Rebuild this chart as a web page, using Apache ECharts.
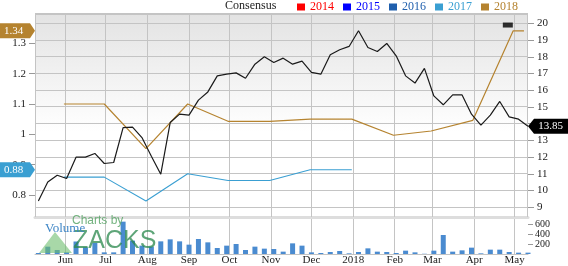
<!DOCTYPE html>
<html><head><meta charset="utf-8">
<script src="https://cdn.jsdelivr.net/npm/echarts@6/dist/echarts.min.js"></script>
<style>html,body{margin:0;padding:0;background:#fff}#c{width:568px;height:266px}</style>
</head><body><div id="c"></div>
<script>
// ---- data ----
const priceWeekly = [9.38, 10.51, 10.92, 10.72, 12.0, 12.0, 12.22, 11.62, 11.68, 13.77, 13.8, 13.17, 12.05, 10.98,
  14.07, 14.57, 14.51, 15.41, 15.9, 16.86, 16.96, 17.04, 16.72, 17.56, 18.0, 17.66, 17.92, 17.56, 17.74, 17.07,
  16.96, 18.12, 18.42, 18.62, 19.56, 18.56, 18.32, 18.8, 18.06, 16.86, 16.43, 17.31, 15.66, 15.13, 15.72, 15.72,
  14.57, 13.91, 14.51, 15.33, 14.41, 14.27, 13.85];
const volumeWeekly = [20, 147, 80, 33, 250, 133, 220, 33, 33, 647, 267, 167, 147, 253, 293, 253, 187, 300, 233, 120,
  167, 200, 80, 147, 107, 100, 47, 213, 167, 33, 20, 40, 60, 13, 40, 113, 47, 40, 20, 67, 33, 5, 67, 380, 47, 73,
  127, 13, 87, 87, 40, 27, 27];
const consensus2018 = [['2017-05-31', 1.10], ['2017-06-30', 1.10], ['2017-07-31', 0.953], ['2017-08-31', 1.10],
  ['2017-09-30', 1.043], ['2017-10-31', 1.043], ['2017-11-30', 1.05], ['2017-12-31', 1.05], ['2018-01-31', 0.997],
  ['2018-02-28', 1.011], ['2018-03-31', 1.046], ['2018-04-30', 1.341], ['2018-05-08', 1.341]];
const consensus2017 = [['2017-05-31', 0.859], ['2017-06-30', 0.859], ['2017-07-31', 0.78], ['2017-08-31', 0.87],
  ['2017-09-30', 0.848], ['2017-10-31', 0.848], ['2017-11-30', 0.883], ['2017-12-31', 0.883]];
const earningsMarker = [['2018-04-26', 19.9]];
const monthTicks = ['2017-06-01', '2017-07-01', '2017-08-01', '2017-09-01', '2017-10-01', '2017-11-01',
  '2017-12-01', '2018-01-01', '2018-02-01', '2018-03-01', '2018-04-01', '2018-05-01'];
const monthNames = ['Jan', 'Feb', 'Mar', 'Apr', 'May', 'Jun', 'Jul', 'Aug', 'Sep', 'Oct', 'Nov', 'Dec'];
const priceTicks = [9, 10, 11, 12, 13, 14, 15, 16, 17, 18, 19, 20];
const epsTicks = [0.8, 0.9, 1, 1.1, 1.2, 1.3];
const volumeTicks = [200, 400, 600];
const legendYears = ['2014', '2015', '2016', '2017', '2018'];

// ---- build ----
function ts(s) { const p = s.split('-').map(Number); return new Date(p[0], p[1] - 1, p[2]).getTime(); }
const weekDates = priceWeekly.map((_, i) => new Date(2017, 4, 12 + 7 * i).getTime());
const xMin = new Date(2017, 4, 9, 12).getTime();
const xMax = new Date(2018, 4, 11).getTime();
const monthTs = monthTicks.map(ts);
const C = { y2014: '#ff0000', y2015: '#0000ff', y2016: '#1f5fad', y2017: '#3a9fd2', y2018: '#b5832f' };
const SERIF = 'Liberation Serif';
const GRID = '#c4c4c4';
const PRICE_MIN = 8.42, PRICE_MAX = 20.56, VOL_MAX = 700;
const GZ = 3;

const last = a => a[a.length - 1];
const fmtNum = v => String(+(+v).toFixed(2));
const fmtMonth = v => { const d = new Date(+v); return d.getMonth() === 0 ? String(d.getFullYear()) : monthNames[d.getMonth()]; };

// grid lines as 1px filled rects (custom series, positions from the axes' own scales)
const hRect = (params, api) => {
  const v = api.value(1);
  const a = api.coord([xMin, v]), b = api.coord([xMax, v]);
  const cs = params.coordSys;
  const y = Math.min(Math.floor(a[1]), Math.ceil(cs.y + cs.height) - 1);
  const x0 = Math.floor(a[0]), x1 = Math.ceil(b[0]);
  return { type: 'rect', silent: true, shape: { x: x0, y: y, width: x1 - x0, height: 1 }, style: { fill: GRID } };
};
const vRect = (yLo, yHi) => (params, api) => {
  const t = api.value(0);
  const a = api.coord([t, yLo]), b = api.coord([t, yHi]);
  const cs = params.coordSys;
  const x = Math.min(Math.floor(a[0]), Math.ceil(cs.x + cs.width) - 1);
  const top = Math.floor(b[1]), bot = Math.ceil(a[1]);
  return { type: 'rect', silent: true, shape: { x: x, y: top, width: 1, height: bot - top }, style: { fill: GRID } };
};

const chart = echarts.init(document.getElementById('c'), null, { renderer: 'canvas' });
chart.setOption({
  animation: false,
  title: { text: 'Consensus', left: 225, top: 0, padding: 0,
    textStyle: { fontFamily: SERIF, fontSize: 12, fontWeight: 'normal', color: '#222', lineHeight: 12 } },
  legend: {
    left: 297, top: 1, padding: 0, itemWidth: 8, itemHeight: 7, itemGap: 9, icon: 'rect',
    textStyle: { fontFamily: SERIF, fontSize: 12, lineHeight: 12 },
    data: legendYears.map(y => ({ name: y, textStyle: { color: C['y' + y] } }))
  },
  grid: [
    { left: 35, top: 14, width: 493, height: 203, show: true, borderWidth: 0, outerBoundsMode: 'none',
      backgroundColor: { type: 'linear', x: 0, y: 0, x2: 0, y2: 1,
        colorStops: [{ offset: 0, color: '#e3e3e3' }, { offset: 0.58, color: '#ffffff' }, { offset: 1, color: '#ffffff' }] } },
    { left: 35, top: 219, width: 493, height: 35, outerBoundsMode: 'none' }
  ],
  xAxis: [
    { type: 'value', gridIndex: 0, min: xMin, max: xMax,
      axisLine: { show: true, lineStyle: { color: '#dddddd', width: 3 } },
      axisTick: { show: false }, axisLabel: { show: false }, splitLine: { show: false } },
    { type: 'value', gridIndex: 1, min: xMin, max: xMax,
      axisLine: { show: true, lineStyle: { color: GRID, width: 1 } },
      axisTick: { show: false, customValues: monthTs },
      axisLabel: { customValues: monthTs, margin: 1, fontFamily: SERIF, fontSize: 11, color: '#222', formatter: fmtMonth },
      splitLine: { show: false } }
  ],
  yAxis: [
    { type: 'value', gridIndex: 0, position: 'left', min: 0.7275, max: 1.3966,
      axisLine: { show: false },
      axisTick: { show: true, length: 6, customValues: epsTicks, lineStyle: { color: '#999' } },
      axisLabel: { customValues: epsTicks, margin: 9, fontFamily: SERIF, fontSize: 11, color: '#222', formatter: fmtNum },
      splitLine: { show: false } },
    { type: 'value', gridIndex: 0, position: 'right', min: PRICE_MIN, max: PRICE_MAX,
      axisLine: { show: false },
      axisTick: { show: true, length: 6, customValues: priceTicks, lineStyle: { color: '#999' } },
      axisLabel: { customValues: priceTicks, margin: 9, fontFamily: SERIF, fontSize: 11, color: '#222', formatter: fmtNum },
      splitLine: { show: false } },
    { type: 'value', gridIndex: 1, position: 'right', min: 0, max: VOL_MAX,
      axisLine: { show: false },
      axisTick: { show: true, length: 5, customValues: volumeTicks, lineStyle: { color: '#999' } },
      axisLabel: { customValues: volumeTicks, margin: 7, fontFamily: SERIF, fontSize: 10, color: '#222' },
      splitLine: { show: false } }
  ],
  series: [
    { name: 'gridH', type: 'custom', xAxisIndex: 0, yAxisIndex: 1, z: GZ, silent: true, clip: false,
      renderItem: hRect, data: priceTicks.concat([PRICE_MAX]).map(v => [xMin, v]) },
    { name: 'gridV', type: 'custom', xAxisIndex: 0, yAxisIndex: 1, z: GZ, silent: true, clip: false,
      renderItem: vRect(PRICE_MIN, PRICE_MAX), data: [xMin].concat(monthTs, [xMax]).map(t => [t, PRICE_MIN]) },
    { name: 'gridVolV', type: 'custom', xAxisIndex: 1, yAxisIndex: 2, z: GZ, silent: true, clip: false,
      renderItem: vRect(0, VOL_MAX), data: monthTs.map(t => [t, 0]) },
    { name: '2014', type: 'line', data: [], color: C.y2014 },
    { name: '2015', type: 'line', data: [], color: C.y2015 },
    { name: '2016', type: 'line', data: [], color: C.y2016 },
    { name: '2017', type: 'line', xAxisIndex: 0, yAxisIndex: 0, clip: false, showSymbol: false, color: C.y2017, z: 5,
      lineStyle: { width: 1.1, color: C.y2017 },
      data: consensus2017.map(d => [ts(d[0]), d[1]]),
      markPoint: { symbol: 'path://M0,0 L30,0 L35,7.5 L30,15 L0,15 Z', symbolSize: [35, 15], symbolOffset: ['-50%', 0],
        symbolKeepAspect: false, itemStyle: { color: C.y2017 },
        label: { show: true, color: '#fff', fontFamily: SERIF, fontSize: 11, offset: [-4, 0], formatter: p => (+p.value).toFixed(2) },
        data: [{ coord: [xMin, last(consensus2017)[1]], value: last(consensus2017)[1] }] } },
    { name: '2018', type: 'line', xAxisIndex: 0, yAxisIndex: 0, clip: false, showSymbol: false, color: C.y2018, z: 5,
      lineStyle: { width: 1.2, color: C.y2018 },
      data: consensus2018.map(d => [ts(d[0]), d[1]]),
      markPoint: { symbol: 'path://M0,0 L30,0 L35,7.5 L30,15 L0,15 Z', symbolSize: [35, 15], symbolOffset: ['-50%', 0],
        symbolKeepAspect: false, itemStyle: { color: C.y2018 },
        label: { show: true, color: '#fff', fontFamily: SERIF, fontSize: 11, offset: [-4, 0], formatter: p => (+p.value).toFixed(2) },
        data: [{ coord: [xMin, last(consensus2018)[1]], value: last(consensus2018)[1] }] } },
    { name: 'Price', type: 'line', xAxisIndex: 0, yAxisIndex: 1, clip: false, showSymbol: false, z: 6,
      lineStyle: { width: 1.2, color: '#1a1a1a' }, color: '#1a1a1a',
      data: weekDates.map((t, i) => [t, priceWeekly[i]]),
      markPoint: { symbol: 'path://M0,7.5 L6,0 L41,0 L41,15 L6,15 Z', symbolSize: [41, 15], symbolOffset: ['50%', 0],
        symbolKeepAspect: false, itemStyle: { color: '#000' },
        label: { show: true, color: '#fff', fontFamily: SERIF, fontSize: 11, offset: [2, 0], formatter: p => (+p.value).toFixed(2) },
        data: [{ coord: [last(weekDates), last(priceWeekly)], value: last(priceWeekly) }] } },
    { name: 'Earnings', type: 'scatter', xAxisIndex: 0, yAxisIndex: 1, symbol: 'rect', symbolSize: [10, 5], z: 6,
      itemStyle: { color: '#000' }, data: earningsMarker.map(d => [ts(d[0]), d[1]]) },
    { name: 'Volume', type: 'bar', xAxisIndex: 1, yAxisIndex: 2, barWidth: 5, z: 5,
      itemStyle: { color: '#4a8bd0' },
      data: weekDates.map((t, i) => [t, volumeWeekly[i]]) }
  ]
});

// redundant grid lines on the graphic layer, same pixel rows/columns, from the chart's own scales
const els = [];
try {
  const px = (finder, v) => chart.convertToPixel(finder, v);
  const xL = px({ xAxisIndex: 0 }, xMin), xR = px({ xAxisIndex: 0 }, xMax);
  const yT = px({ yAxisIndex: 1 }, PRICE_MAX), yB = px({ yAxisIndex: 1 }, PRICE_MIN);
  const vT = px({ yAxisIndex: 2 }, VOL_MAX), vB = px({ yAxisIndex: 2 }, 0);
  const colX = x => Math.min(Math.floor(x), Math.ceil(xR) - 1);
  const rowY = y => Math.min(Math.floor(y), Math.ceil(yB) - 1);
  const rectEl = (x, y, w, h) => ({ type: 'rect', z: GZ, shape: { x, y, width: w, height: h }, style: { fill: GRID } });
  priceTicks.concat([PRICE_MAX]).forEach(v => {
    const y = rowY(px({ yAxisIndex: 1 }, v));
    if (Number.isFinite(y)) els.push(rectEl(Math.floor(xL), y, Math.ceil(xR) - Math.floor(xL), 1));
  });
  [xMin, xMax].concat(monthTs).forEach(t => {
    const x = colX(px({ xAxisIndex: 0 }, t));
    if (Number.isFinite(x)) els.push(rectEl(x, Math.floor(yT), 1, Math.ceil(yB) - Math.floor(yT)));
  });
  monthTs.forEach(t => {
    const x = colX(px({ xAxisIndex: 1 }, t));
    if (Number.isFinite(x) && Number.isFinite(vT)) els.push(rectEl(x, Math.floor(vT), 1, Math.ceil(vB) - Math.floor(vT)));
  });
} catch (e) { /* custom series already draws the grid lines */ }
els.push(
  { type: 'polygon', z: 100, shape: { points: [[39, 253], [55, 232], [72, 253]] }, style: { fill: 'rgba(110,190,110,0.6)' } },
  { type: 'text', z: 100, left: 72, top: 215, style: { text: 'Charts by', font: '12px "Liberation Sans"', fill: 'rgba(80,160,95,0.8)' } },
  { type: 'text', z: 100, left: 73, top: 229, style: { text: 'ZACKS', font: '25px "Liberation Sans"', fill: 'rgba(40,135,75,0.75)' } },
  { type: 'text', z: 101, left: 45, top: 222, style: { text: 'Volume', font: '13px "Liberation Serif"', fill: '#3d85c6' } }
);
chart.setOption({ graphic: els });
</script></body></html>
